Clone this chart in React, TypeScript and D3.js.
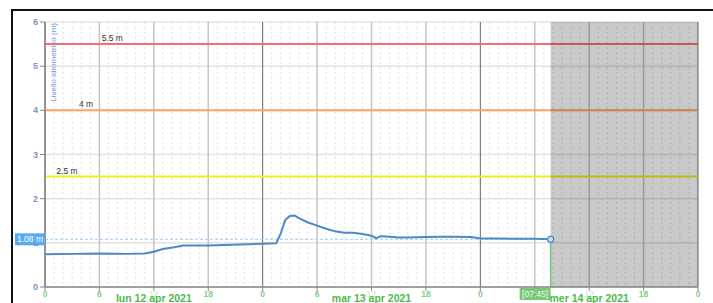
import * as d3 from "d3";
import React from "react";

const width = 713;
const height = 303;

// level readings (m)
const times = [
  "2021-04-12T00:00", "2021-04-12T03:00", "2021-04-12T06:00", "2021-04-12T09:00",
  "2021-04-12T11:00", "2021-04-12T12:00", "2021-04-12T13:00", "2021-04-12T14:15",
  "2021-04-12T15:15", "2021-04-12T18:00", "2021-04-12T21:30", "2021-04-13T00:00",
  "2021-04-13T01:30", "2021-04-13T02:00", "2021-04-13T02:30", "2021-04-13T03:00",
  "2021-04-13T03:30", "2021-04-13T04:00", "2021-04-13T05:00", "2021-04-13T06:00",
  "2021-04-13T07:00", "2021-04-13T08:00", "2021-04-13T09:00", "2021-04-13T10:00",
  "2021-04-13T11:00", "2021-04-13T11:45", "2021-04-13T12:15", "2021-04-13T12:30",
  "2021-04-13T13:00", "2021-04-13T14:00", "2021-04-13T15:00", "2021-04-13T16:00",
  "2021-04-13T18:00", "2021-04-13T19:30", "2021-04-13T21:00", "2021-04-13T23:00",
  "2021-04-14T00:00", "2021-04-14T02:00", "2021-04-14T04:00", "2021-04-14T06:00",
  "2021-04-14T07:45",
];
const levels = [
  0.74, 0.75, 0.76, 0.75,
  0.76, 0.80, 0.86, 0.90,
  0.94, 0.94, 0.96, 0.98,
  0.99, 1.22, 1.52, 1.61,
  1.62, 1.56, 1.46, 1.39,
  1.32, 1.26, 1.23, 1.23,
  1.20, 1.17, 1.14, 1.10,
  1.15, 1.14, 1.12, 1.12,
  1.13, 1.14, 1.14, 1.13,
  1.10, 1.10, 1.09, 1.09,
  1.08,
];

const thresholds = [5.5, 4, 2.5];
const thresholdColors = ["#ff6b6b", "#ffa468", "#f4ef1a"];
const thresholdLabelX = ["2021-04-12T06:15", "2021-04-12T03:45", "2021-04-12T01:15"];

const dayLabels = ["lun 12 apr 2021", "mar 13 apr 2021", "mer 14 apr 2021"];
const dayNoons = ["2021-04-12T12:00", "2021-04-13T12:00", "2021-04-14T12:00"];

const currentTime = "2021-04-14T07:45";
const currentLabel = "[07:45]";
const currentValue = 1.08;

const yTicks = [0, 1, 2, 3, 4, 5, 6];

const parse = (s: string) => new Date(s);

export default function App() {
  const x = d3
    .scaleTime()
    .domain([parse("2021-04-12T00:00"), parse("2021-04-15T00:00")])
    .range([45, 698]);
  const y = d3.scaleLinear().domain([0, 6]).range([287, 22]);

  const data = times.map((t, i) => ({ t: parse(t), v: levels[i] }));
  const line = d3
    .line<{ t: Date; v: number }>()
    .x((d) => x(d.t))
    .y((d) => y(d.v));

  const hours = d3.timeHour.every(1)!.range(x.domain()[0], d3.timeHour.offset(x.domain()[1], 1));
  const sixes = hours.filter((h) => h.getHours() % 6 === 0);

  const cx = x(parse(currentTime));
  const cy = y(currentValue);
  const [x0, x1] = x.range();
  const [y0, y1] = y.range();

  return (
    <svg
      width={width}
      height={height}
      style={{ position: "absolute", left: 0, top: 0, fontFamily: "'Liberation Sans', Arial, sans-serif" }}
    >
      <rect width={width} height={height} fill="white" />
      {/* outer frame */}
      <rect x={12} y={10} width={width + 10} height={height + 10} fill="none" stroke="#111" strokeWidth={2} />

      {/* hourly dotted grid */}
      {hours
        .filter((h) => h.getHours() % 6 !== 0)
        .map((h, i) => (
          <line key={"h" + i} x1={x(h)} x2={x(h)} y1={y1} y2={y0} stroke="#e0e0e0" strokeDasharray="2,3" />
        ))}
      {/* horizontal grid */}
      {yTicks.map((t) => (
        <line key={"y" + t} x1={x0} x2={x1} y1={y(t)} y2={y(t)} stroke="#e4e4e4" strokeWidth={1.5} />
      ))}
      {/* 6h grid */}
      {sixes.map((h, i) => (
        <line
          key={"s" + i}
          x1={x(h)}
          x2={x(h)}
          y1={y1}
          y2={y0}
          stroke={h.getHours() === 0 ? "#666" : "#c4c4c4"}
          strokeWidth={h.getHours() === 0 ? 1 : 1.5}
        />
      ))}

      {/* thresholds */}
      {thresholds.map((v, i) => (
        <g key={"th" + v}>
          <line x1={x0} x2={x1} y1={y(v)} y2={y(v)} stroke={thresholdColors[i]} strokeWidth={2} />
          <text x={x(parse(thresholdLabelX[i]))} y={y(v) - 3} fontSize={8.5} fill="#333">
            {v} m
          </text>
        </g>
      ))}

      {/* current value guide */}
      <line x1={x0} x2={cx} y1={cy} y2={cy} stroke="#9fcdf5" strokeWidth={1} strokeDasharray="3,2" />

      {/* series */}
      <path d={line(data) || ""} fill="none" stroke="#4d88c7" strokeWidth={2} strokeLinejoin="round" />

      {/* future shade */}
      <rect x={cx} y={y1} width={x1 - cx} height={y0 - y1} fill="#000" fillOpacity={0.21} />

      <line x1={cx} x2={cx} y1={cy} y2={y0} stroke="#6ccb6c" strokeWidth={1.5} />
      <circle cx={cx} cy={cy} r={3} fill="#cfe2f5" stroke="#4a86c5" strokeWidth={1.2} />

      {/* y axis */}
      <line x1={x0} x2={x0} y1={y1} y2={y0} stroke="#888" strokeWidth={1.5} />
      {yTicks.map((t) => (
        <g key={"yt" + t}>
          <line x1={x0 - 5} x2={x0} y1={y(t)} y2={y(t)} stroke="#888" />
          <text x={x0 - 7} y={y(t)} dy="0.35em" textAnchor="end" fontSize={9} fontWeight="bold" fill="#7a98c0">
            {t}
          </text>
        </g>
      ))}
      <text
        transform={`translate(${x0 + 8},${y1 + 1}) rotate(-90)`}
        textAnchor="end"
        dy="0.35em"
        fontSize={8}
        fill="#6fa0d6"
      >
        Livello idrometrico (m)
      </text>
      <rect x={15} y={cy - 6} width={x0 - 15} height={12} fill="#5aaaf0" />
      <text x={30} y={cy} dy="0.35em" textAnchor="middle" fontSize={8.5} fill="white">
        {currentValue} m
      </text>

      {/* x axis */}
      <line x1={x0} x2={x1} y1={y0} y2={y0} stroke="#888" strokeWidth={1.5} />
      {sixes.map((h, i) => (
        <g key={"xt" + i}>
          <line x1={x(h)} x2={x(h)} y1={y0} y2={y0 + 4} stroke="#888" />
          <text
            x={x(h)}
            y={y0 + 10}
            textAnchor="middle"
            fontSize={8.5}
            fontWeight="bold"
            fill={h.getHours() === 12 ? "#d4eed4" : "#7fd07f"}
          >
            {h.getHours()}
          </text>
        </g>
      ))}
      <rect x={cx - 31} y={y0 + 1} width={31} height={12} fill="#6cc36c" fillOpacity={0.9} />
      <text x={cx - 15.5} y={y0 + 10} textAnchor="middle" fontSize={8.5} fill="#e8f8e8">
        {currentLabel}
      </text>
      {dayLabels.map((d, i) => (
        <text
          key={d}
          x={x(parse(dayNoons[i]))}
          y={y0 + 15}
          textAnchor="middle"
          fontSize={10.5}
          fontWeight="bold"
          fill="#4cba4c"
        >
          {d}
        </text>
      ))}
    </svg>
  );
}
